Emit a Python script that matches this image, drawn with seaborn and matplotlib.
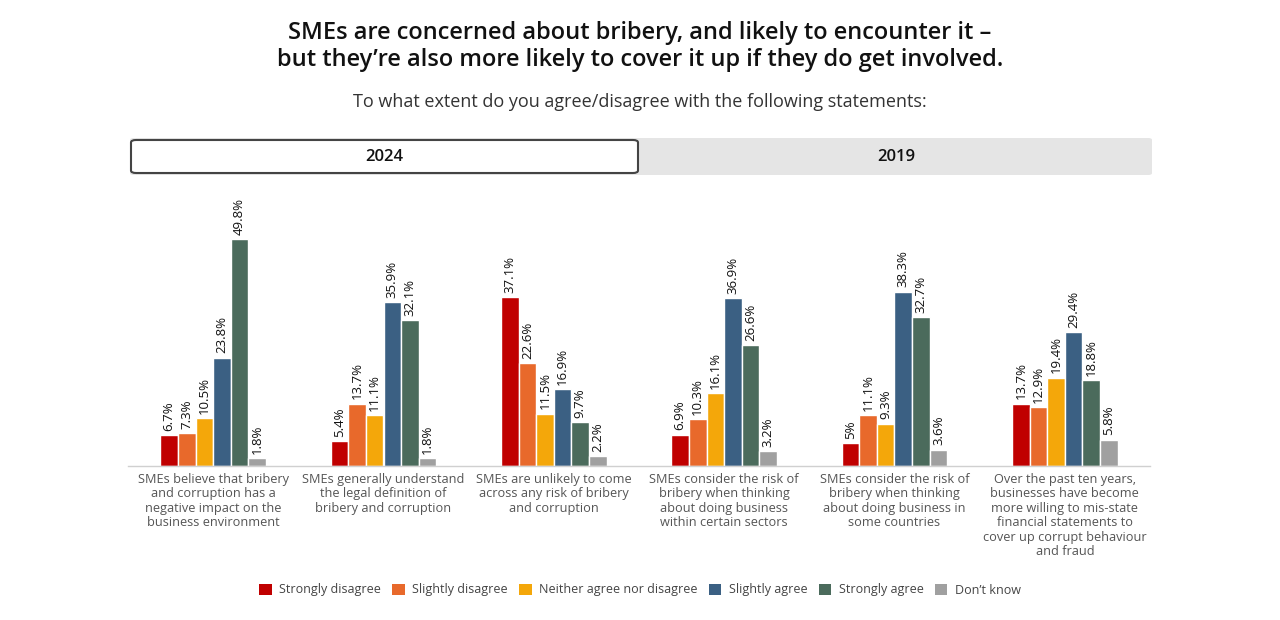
import matplotlib
matplotlib.use("Agg")
import matplotlib.pyplot as plt
from matplotlib.patches import FancyBboxPatch, Patch
import seaborn as sns
import pandas as pd

categories = [
    "SMEs believe that bribery\nand corruption has a\nnegative impact on the\nbusiness environment",
    "SMEs generally understand\nthe legal definition of\nbribery and corruption",
    "SMEs are unlikely to come\nacross any risk of bribery\nand corruption",
    "SMEs consider the risk of\nbribery when thinking\nabout doing business\nwithin certain sectors",
    "SMEs consider the risk of\nbribery when thinking\nabout doing business in\nsome countries",
    "Over the past ten years,\nbusinesses have become\nmore willing to mis-state\nfinancial statements to\ncover up corrupt behaviour\nand fraud",
]
responses = ["Strongly disagree", "Slightly disagree", "Neither agree nor disagree",
             "Slightly agree", "Strongly agree", "Don\u2019t know"]
strongly_disagree = [6.7, 5.4, 37.1, 6.9, 5.0, 13.7]
slightly_disagree = [7.3, 13.7, 22.6, 10.3, 11.1, 12.9]
neither = [10.5, 11.1, 11.5, 16.1, 9.3, 19.4]
slightly_agree = [23.8, 35.9, 16.9, 36.9, 38.3, 29.4]
strongly_agree = [49.8, 32.1, 9.7, 26.6, 32.7, 18.8]
dont_know = [1.8, 1.8, 2.2, 3.2, 3.6, 5.8]
series = [strongly_disagree, slightly_disagree, neither, slightly_agree, strongly_agree, dont_know]
colors = ["#C00000", "#E8692B", "#F4A70A", "#3B6083", "#4B6B5C", "#A0A0A0"]

rows = []
for resp, vals in zip(responses, series):
    for cat, v in zip(categories, vals):
        rows.append({"cat": cat, "resp": resp, "value": v})
df = pd.DataFrame(rows)

sns.set_theme(style="white")
plt.rcParams["font.family"] = ["Open Sans", "DejaVu Sans"]

W, H = 1280, 620
fig = plt.figure(figsize=(12.8, 6.2), dpi=100)
fig.patch.set_facecolor("white")

ax = fig.add_axes([128 / W, 1 - 466 / H, (1150 - 128) / W, 266 / H])
sns.barplot(data=df, x="cat", y="value", hue="resp", order=categories, hue_order=responses,
            palette=colors, width=0.62, gap=0, edgecolor="white", linewidth=1.0,
            saturation=1, legend=False, ax=ax)
ax.set_xlim(-0.5, 5.5)
ax.set_ylim(0, 58.4)
for cont, vals in zip(ax.containers, series):
    ax.bar_label(cont, labels=[f"{v:g}%" for v in vals], rotation=90, padding=3,
                 fontsize=9.5, color="#111111")
ax.set_xlabel("")
ax.set_ylabel("")
ax.set_yticks([])
ax.tick_params(axis="x", length=0, pad=5)
ax.set_xticks(range(len(categories)))
ax.set_xticklabels(categories, fontsize=9.2, color="#555555", linespacing=1.15, va="top")
for s in ["top", "left", "right"]:
    ax.spines[s].set_visible(False)
ax.spines["bottom"].set_color("#d0d0d0")
ax.spines["bottom"].set_linewidth(1)

# Titles
fig.text(0.5, 1 - 33 / H, "SMEs are concerned about bribery, and likely to encounter it \u2013",
         ha="center", va="center", fontsize=17, fontweight="semibold", color="#111111")
fig.text(0.5, 1 - 60 / H, "but they\u2019re also more likely to cover it up if they do get involved.",
         ha="center", va="center", fontsize=17, fontweight="semibold", color="#111111")
fig.text(0.5, 1 - 102 / H, "To what extent do you agree/disagree with the following statements:",
         ha="center", va="center", fontsize=13, color="#333333")

# Tab bar
bg = FancyBboxPatch((130 / W, 1 - 175 / H), (1152 - 130) / W, 37 / H,
                    boxstyle="round,pad=0,rounding_size=0.003", transform=fig.transFigure,
                    facecolor="#E5E5E5", edgecolor="none")
fig.patches.append(bg)
tab = FancyBboxPatch((131 / W, 1 - 173 / H), (638 - 131) / W, 33 / H,
                     boxstyle="round,pad=0,rounding_size=0.004", transform=fig.transFigure,
                     facecolor="white", edgecolor="#444444", linewidth=1.5)
fig.patches.append(tab)
fig.text(384 / W, 1 - 157 / H, "2024", ha="center", va="center", fontsize=12,
         fontweight="semibold", color="#111111")
fig.text(896 / W, 1 - 157 / H, "2019", ha="center", va="center", fontsize=12,
         fontweight="semibold", color="#111111")

# Legend
handles = [Patch(facecolor=c, edgecolor="none", label=r) for c, r in zip(colors, responses)]
leg = fig.legend(handles=handles, loc="center", bbox_to_anchor=(0.5, 1 - 590 / H), ncol=6,
                 frameon=False, fontsize=9, handlelength=1.0, handleheight=1.0,
                 handletextpad=0.6, columnspacing=0.9)
for t in leg.get_texts():
    t.set_color("#444444")

fig.savefig("out.png", dpi=100, facecolor="white")
